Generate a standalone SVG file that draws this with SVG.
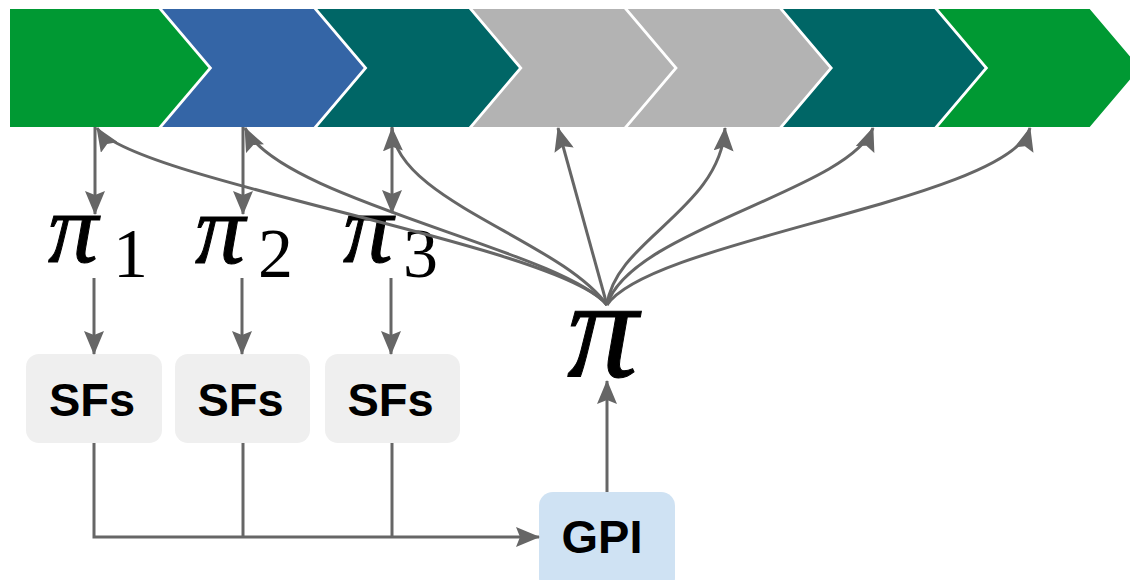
<svg xmlns="http://www.w3.org/2000/svg" width="1130" height="580" viewBox="0 0 1130 580">
  <style>
    .green { fill: #009933; }
    .blue { fill: #3465a6; }
    .teal { fill: #006666; }
    .grey { fill: #b3b3b3; }
    .wire { fill: none; stroke: #666666; stroke-width: 3; }
    .box-sf { fill: #efefef; }
    .box-gpi { fill: #cfe2f3; }
    .label { font-family: "Liberation Sans", Arial, sans-serif; font-weight: bold; font-size: 47px; fill: #000000; text-anchor: middle; }
    .pi { font-family: "Liberation Serif", "Times New Roman", serif; font-style: italic; fill: #000000; stroke: #000000; stroke-width: 1; }
    .sub { font-family: "Liberation Serif", "Times New Roman", serif; fill: #000000; }
  </style>
  <defs>
    <marker id="head" markerUnits="userSpaceOnUse" viewBox="0 0 24 20" refX="23" refY="10" markerWidth="24" markerHeight="20" orient="auto">
      <path d="M0,0 L24,10 L0,20 L4,10 Z" fill="#666666"/>
    </marker>
  </defs>

  <!-- process chevrons -->
  <g id="chevrons">
    <polygon id="step1" class="green" points="10,9 158.5,9 208.5,68 158.5,127 10,127"/>
    <polygon id="step2" class="blue" points="162.2,9 313.7,9 363.7,68 313.7,127 162.2,127 212.2,68"/>
    <polygon id="step3" class="teal" points="317.4,9 468.9,9 518.9,68 468.9,127 317.4,127 367.4,68"/>
    <polygon id="step4" class="grey" points="472.6,9 624.1,9 674.1,68 624.1,127 472.6,127 522.6,68"/>
    <polygon id="step5" class="grey" points="627.8,9 779.3,9 829.3,68 779.3,127 627.8,127 677.8,68"/>
    <polygon id="step6" class="teal" points="783,9 934.5,9 984.5,68 934.5,127 783,127 833,68"/>
    <polygon id="step7" class="green" points="938.2,9 1089.7,9 1139.7,68 1089.7,127 938.2,127 988.2,68"/>
  </g>

  <!-- local policies -->
  <g id="pi1">
    <text class="pi" x="48" y="262" font-size="100">π</text>
    <text class="sub" x="113" y="277" font-size="70">1</text>
  </g>
  <g id="pi2">
    <text class="pi" x="195" y="263" font-size="100">π</text>
    <text class="sub" x="258" y="277" font-size="70">2</text>
  </g>
  <g id="pi3">
    <text class="pi" x="343" y="262" font-size="100">π</text>
    <text class="sub" x="403" y="277" font-size="70">3</text>
  </g>

  <!-- global policy -->
  <g id="pi">
    <text class="pi" x="567" y="377" font-size="142">π</text>
  </g>

  <!-- SF blocks -->
  <g id="sf1">
    <rect class="box-sf" x="26" y="354" width="136" height="89" rx="13"/>
    <text class="label" x="92" y="416">SFs</text>
  </g>
  <g id="sf2">
    <rect class="box-sf" x="175" y="354" width="135" height="89" rx="13"/>
    <text class="label" x="240.5" y="416">SFs</text>
  </g>
  <g id="sf3">
    <rect class="box-sf" x="325" y="354" width="135" height="89" rx="13"/>
    <text class="label" x="390.5" y="416">SFs</text>
  </g>

  <!-- GPI block -->
  <g id="gpi">
    <rect class="box-gpi" x="539" y="492" width="136" height="100" rx="14"/>
    <text class="label" x="602" y="553">GPI</text>
  </g>

  <!-- connectors -->
  <g id="connectors">
    <!-- chevrons down to local policies -->
    <line class="wire" x1="95" y1="127" x2="95" y2="214" marker-end="url(#head)"/>
    <line class="wire" x1="243" y1="127" x2="243" y2="214" marker-end="url(#head)"/>
    <line class="wire" x1="392" y1="127" x2="392" y2="213" marker-end="url(#head)"/>
    <!-- local policies down to SFs -->
    <line class="wire" x1="94" y1="278" x2="94" y2="354" marker-end="url(#head)"/>
    <line class="wire" x1="242" y1="278" x2="242" y2="354" marker-end="url(#head)"/>
    <line class="wire" x1="391" y1="278" x2="391" y2="354" marker-end="url(#head)"/>
    <!-- SFs merged into GPI -->
    <polyline class="wire" points="94,443 94,537 539,537" marker-end="url(#head)"/>
    <line class="wire" x1="243" y1="443" x2="243" y2="537"/>
    <line class="wire" x1="392" y1="443" x2="392" y2="537"/>
    <!-- GPI up to global policy -->
    <line class="wire" x1="607" y1="492" x2="607" y2="381" marker-end="url(#head)"/>
    <!-- global policy fanning out to every step -->
    <path class="wire" d="M607,305 C560,245 130,180 97,128" marker-end="url(#head)"/>
    <path class="wire" d="M607,305 C560,250 280,200 245,128" marker-end="url(#head)"/>
    <path class="wire" d="M607,305 C560,240 395,200 392,128" marker-end="url(#head)"/>
    <path class="wire" d="M607,305 L558,128" marker-end="url(#head)"/>
    <path class="wire" d="M607,305 C615,240 720,210 725,128" marker-end="url(#head)"/>
    <path class="wire" d="M607,305 C630,230 850,190 873,128" marker-end="url(#head)"/>
    <path class="wire" d="M607,305 C650,240 1010,200 1030,128" marker-end="url(#head)"/>
  </g>
</svg>
